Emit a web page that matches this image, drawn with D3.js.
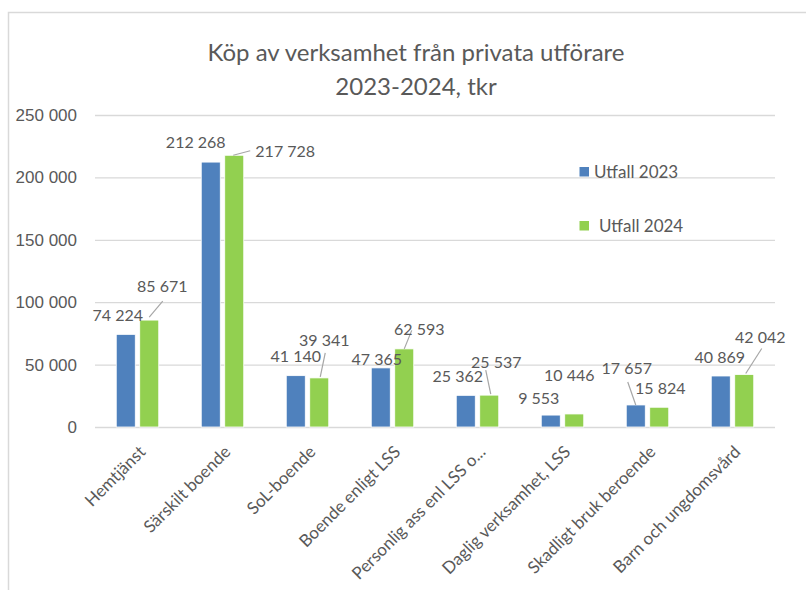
<!DOCTYPE html>
<html>
<head>
<meta charset="utf-8">
<script src="https://cdn.jsdelivr.net/npm/d3@7"></script>
<style>
  body { margin: 0; background: #fff; }
  svg { font-family: Lato, "Open Sans", sans-serif; }
  .tick text { fill: #595959; }
</style>
</head>
<body>
<div id="chart"></div>
<script>
let chart_width = 806;
let chart_height = 590;

// data
let categories = ["Hemtjänst", "Särskilt boende", "SoL-boende", "Boende enligt LSS",
    "Personlig ass enl LSS o...", "Daglig verksamhet, LSS", "Skadligt bruk beroende", "Barn och ungdomsvård"];
let seriesNames = ["Utfall 2023", "Utfall 2024"];
let utfall2023 = [74224, 212268, 41140, 47365, 25362, 9553, 17657, 40869];
let utfall2024 = [85671, 217728, 39341, 62593, 25537, 10446, 15824, 42042];
let yTicks = [0, 50000, 100000, 150000, 200000, 250000];
let colours = ["#4f81bd", "#92d050"];

// where the data labels sit, relative to the top centre of the bar (Excel moved some of them by hand)
let labelPos2023 = [[-8, -13], [-15, -14], [0, -14], [-4, -3], [-8, -13], [-12, -11], [-9, -31], [-1, -13]];
let labelPos2024 = [[13, -28], [51, 2], [5, -32], [15, -14], [7, -27], [-5, -33], [1, -13], [16, -32]];
// leader lines: [x1, y1, x2, y2] relative to bar top, null = none
let leader2023 = [null, null, null, null, null, null, [0, 0, -8, -23], null];
let leader2024 = [[0, -3, 13.5, -19], [-1, 0, 16, -4.5], [1, -1, 6, -25], [0, 0, 7.5, -18.5],
    [1.5, -1, -3.5, -25], null, null, [1.5, -1, 17.5, -26]];

let fmt = d3.formatLocale({decimal: ",", thousands: "\u2009", grouping: [3]}).format(",");
let fmtNum = v => fmt(v).replace(/\u2009/g, " ");

let svg = d3.select("#chart").append("svg")
    .attr("width", chart_width)
    .attr("height", chart_height);

// chart border
svg.append("rect")
    .attr("x", 8.5).attr("y", 12.5)
    .attr("width", chart_width + 10).attr("height", chart_height + 10)
    .attr("fill", "none")
    .attr("stroke", "#d9d9d9")
    .attr("stroke-width", 1.5);

// title
let title = svg.append("text")
    .attr("text-anchor", "middle")
    .attr("fill", "#595959")
    .style("font-size", "24px");
title.append("tspan").attr("x", 416).attr("y", 61).text("Köp av verksamhet från privata utförare");
title.append("tspan").attr("x", 416).attr("y", 95).text("2023-2024, tkr");

let x0 = d3.scaleBand()
    .domain(categories)
    .range([95, 775])
    .paddingInner(0.5)
    .paddingOuter(0.25);

let x1 = d3.scaleBand()
    .domain(seriesNames)
    .range([0, x0.bandwidth()])
    .paddingInner(0.19);

let y = d3.scaleLinear()
    .domain([0, 250000])
    .range([427, 115]);

// gridlines + y labels
let yAxis = svg.append("g")
    .attr("transform", "translate(95,0)")
    .call(d3.axisLeft(y).tickValues(yTicks).tickSize(-680).tickPadding(18).tickFormat(fmtNum));
yAxis.select(".domain").remove();
yAxis.selectAll(".tick line").attr("stroke", "#d9d9d9").attr("stroke-width", 1.3);
yAxis.selectAll(".tick text").style("font-size", "17px");

// x labels
let xAxis = svg.append("g").attr("transform", "translate(0,427)");
xAxis.selectAll("text")
    .data(categories)
    .enter()
    .append("text")
    .attr("text-anchor", "end")
    .attr("fill", "#595959")
    .style("font-size", "17px")
    .attr("transform", d => `translate(${x0(d) + x0.bandwidth() / 2 + 9},26) rotate(-45)`)
    .text(d => d);

let series = [utfall2023, utfall2024];
let labelPos = [labelPos2023, labelPos2024];
let leaders = [leader2023, leader2024];
let cx = (s, i) => x0(categories[i]) + x1(seriesNames[s]) + x1.bandwidth() / 2;

// bars first, so the labels end up on top of them
series.forEach((values, s) => {
    svg.append("g").attr("class", "bars" + s)
        .selectAll("rect")
        .data(values)
        .enter()
        .append("rect")
        .attr("x", (d, i) => x0(categories[i]) + x1(seriesNames[s]))
        .attr("y", d => y(d))
        .attr("width", x1.bandwidth())
        .attr("height", d => y(0) - y(d))
        .attr("fill", colours[s])
        .attr("stroke", "#ffffff")
        .attr("stroke-width", 0.8);
});

series.forEach((values, s) => {
    let g = svg.append("g").attr("class", "labels" + s);

    g.selectAll("line")
        .data(values.map((d, i) => [d, i]).filter(p => leaders[s][p[1]]))
        .enter()
        .append("line")
        .attr("x1", p => cx(s, p[1]) + leaders[s][p[1]][0])
        .attr("y1", p => y(p[0]) + leaders[s][p[1]][1])
        .attr("x2", p => cx(s, p[1]) + leaders[s][p[1]][2])
        .attr("y2", p => y(p[0]) + leaders[s][p[1]][3])
        .attr("stroke", "#a6a6a6")
        .attr("stroke-width", 1.2);

    g.selectAll("text")
        .data(values)
        .enter()
        .append("text")
        .attr("text-anchor", "middle")
        .attr("fill", "#595959")
        .style("font-size", "16px")
        .attr("x", (d, i) => cx(s, i) + labelPos[s][i][0])
        .attr("y", (d, i) => y(d) + labelPos[s][i][1])
        .text(d => fmtNum(d));
});

// legend
let legend = svg.append("g");
seriesNames.forEach((name, s) => {
    let ly = [167, 221][s];
    legend.append("rect")
        .attr("x", 579.5).attr("y", ly)
        .attr("width", 9.5).attr("height", 9.5)
        .attr("fill", colours[s]);
    legend.append("text")
        .attr("x", [594, 599][s]).attr("y", ly + 10.5)
        .attr("fill", "#595959")
        .style("font-size", "17px")
        .text(name);
});
</script>
</body>
</html>
